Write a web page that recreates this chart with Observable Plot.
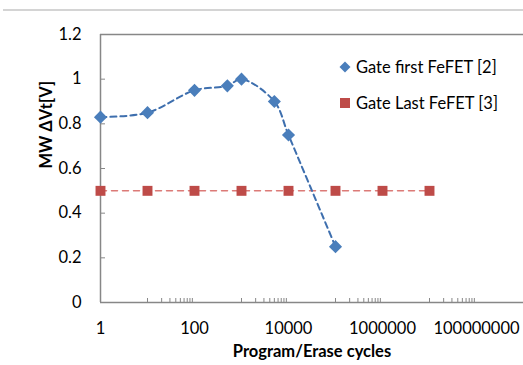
<!DOCTYPE html>
<html><head><meta charset="utf-8">
<script src="https://cdn.jsdelivr.net/npm/d3@7"></script>
<script src="https://cdn.jsdelivr.net/npm/@observablehq/plot@0.6"></script>
<style>
body{margin:0;background:#fff;}
#wrap{position:relative;width:523px;height:365px;font-family:Lato,"Open Sans",sans-serif;overflow:hidden;}
#topline{position:absolute;left:3px;right:0;top:9px;height:2px;background:#d4d4d4;}
.legend{position:absolute;left:339px;font-size:16.5px;color:#000;display:flex;align-items:center;white-space:nowrap;}
.legend svg{margin-right:5px;}
#wrap > svg.plot{position:absolute;left:0;top:0;}
</style></head><body><div id="wrap"><div id="topline"></div></div>
<script>
const gateFirstCycles = [1, 10, 100, 500, 1000, 5000, 10000, 100000];
const gateFirstMW = [0.83, 0.85, 0.95, 0.97, 1.0, 0.9, 0.75, 0.25];
const gateLastCycles = [1, 10, 100, 1000, 10000, 100000, 1000000, 10000000];
const gateLastMW = [0.5, 0.5, 0.5, 0.5, 0.5, 0.5, 0.5, 0.5];
const xTickValues = [1, 100, 10000, 1000000, 100000000];
const xTickLabels = ["1", "100", "10000", "1000000", "100000000"];
const xMinorTicks = [10, 20, 30, 40, 50, 60, 70, 80, 90,
  1000, 2000, 3000, 4000, 5000, 6000, 7000, 8000, 9000,
  100000, 200000, 300000, 400000, 500000, 600000, 700000, 800000, 900000,
  10000000, 20000000, 30000000, 40000000, 50000000, 60000000, 70000000, 80000000, 90000000];
const yTickValues = [0, 0.2, 0.4, 0.6, 0.8, 1, 1.2];
const yTickLabels = ["0", "0.2", "0.4", "0.6", "0.8", "1", "1.2"];
const seriesNames = ["Gate first FeFET [2]", "Gate Last FeFET [3]"];
const seriesColors = ["#4a7ebb", "#be4b48"];
const xTitle = "Program/Erase cycles";
const yTitle = "MW ΔVt[V]";

const first = gateFirstCycles.map((c, i) => ({cycles: c, mw: gateFirstMW[i]}));
const last = gateLastCycles.map((c, i) => ({cycles: c, mw: gateLastMW[i]}));

const axisColor = "#878787";
const font = "Lato, 'Open Sans', sans-serif";

const chart = Plot.plot({
  width: 523, height: 365,
  marginLeft: 100, marginRight: 0, marginTop: 34, marginBottom: 63,
  style: {fontFamily: font, fontSize: "16.5px", color: "#000", background: "transparent", overflow: "visible"},
  x: {type: "log", domain: [1, 1e9]},
  y: {domain: [0, 1.2]},
  marks: [
    Plot.axisX({ticks: xTickValues, tickFormat: (d) => xTickLabels[xTickValues.indexOf(d)], tickSize: 0, tickPadding: 20, label: null}),
    Plot.axisY({ticks: yTickValues, tickFormat: (d) => yTickLabels[yTickValues.indexOf(d)], tickSize: 0, tickPadding: 19, label: null}),
    Plot.tickX(xMinorTicks, {x: d => d, stroke: axisColor, strokeWidth: 1, insetTop: 264}),
    Plot.tickY(yTickValues.slice(1, -1), {y: d => d, stroke: axisColor, strokeWidth: 1, insetRight: 418}),
    Plot.ruleY([1.2], {stroke: axisColor, strokeWidth: 1.5}),
    Plot.ruleY([0], {stroke: axisColor, strokeWidth: 1.5}),
    Plot.ruleX([1], {stroke: axisColor, strokeWidth: 1.5}),
    Plot.line(last, {x: "cycles", y: "mw", stroke: "#dc7a77", strokeWidth: 1.5, strokeDasharray: "6,5"}),
    Plot.line(first, {x: "cycles", y: "mw", stroke: "#3e6fae", strokeWidth: 2, strokeDasharray: "6,4", curve: "catmull-rom"}),
    Plot.dot(last, {x: "cycles", y: "mw", symbol: "square", r: 5.6, fill: seriesColors[1], stroke: "none"}),
    Plot.dot(first, {x: "cycles", y: "mw", symbol: "diamond2", r: 5.9, fill: seriesColors[0], stroke: "none"}),
    Plot.text([xTitle], {frameAnchor: "bottom", text: d => d, dy: 54, fontWeight: "bold", fontSize: 16.5, fill: "#000"}),
    Plot.text([yTitle], {frameAnchor: "left", text: d => d, dx: -54, rotate: -90, fontWeight: "bold", fontSize: 16.5, fill: "#000"})
  ]
});
const wrap = document.getElementById("wrap");
wrap.appendChild(chart);

const legendTops = [57, 93];
seriesNames.forEach((name, i) => {
  const div = document.createElement("div");
  div.className = "legend";
  div.style.top = legendTops[i] + "px";
  const sym = i === 0
    ? `<svg width="12" height="12"><path d="M6,0.5L11.5,6L6,11.5L0.5,6Z" fill="${seriesColors[0]}"/></svg>`
    : `<svg width="12" height="12"><rect x="1" y="1" width="10" height="10" fill="${seriesColors[1]}"/></svg>`;
  div.innerHTML = sym + `<span>${name}</span>`;
  wrap.appendChild(div);
});
</script></body></html>
